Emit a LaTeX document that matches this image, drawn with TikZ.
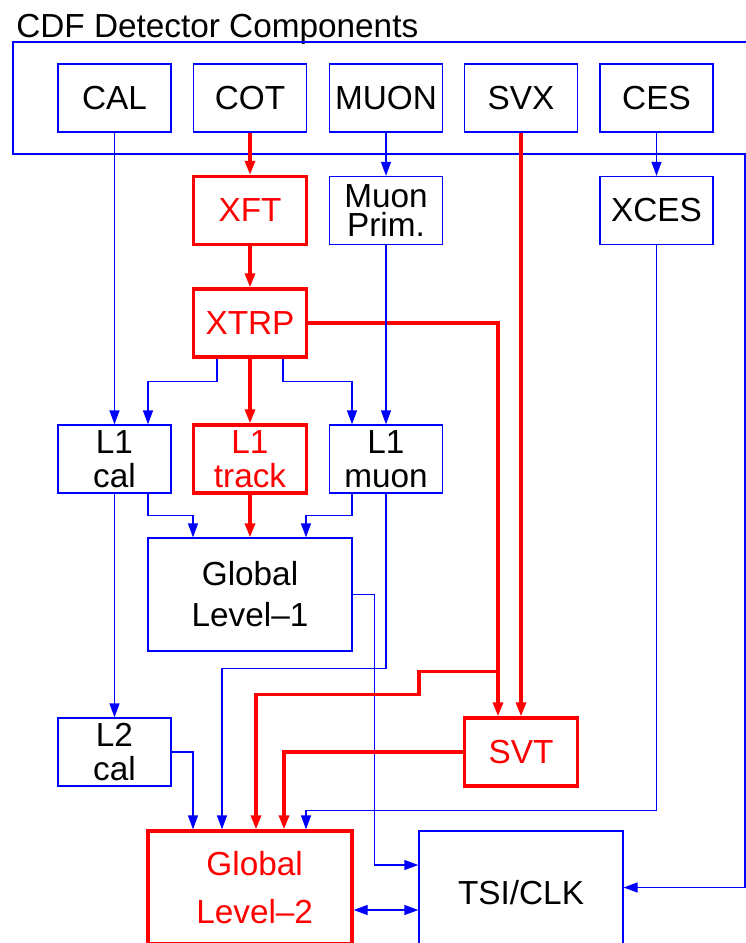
\documentclass[tikz,border=0pt]{standalone}
\usepackage{fontspec}
\setmainfont{Liberation Sans}
\usetikzlibrary{arrows.meta,calc}

\tikzset{
  box/.style={draw=blue, line width=1pt, minimum width=113*0.75pt, minimum height=68*0.75pt,
    inner sep=0pt, align=center, font=\fontsize{25}{25.5}\selectfont},
  hot/.style={box, draw=red, text=red, line width=2.5pt},
  wide/.style={minimum width=204*0.75pt, minimum height=113*0.75pt},
  bl/.style={blue, line width=1pt, -{Triangle[length=10.5pt,width=7.5pt]}},
  rl/.style={red, line width=2.4pt, -{Triangle[length=10.5pt,width=7.5pt]}},
}

\begin{document}
\begin{tikzpicture}[x=0.75pt,y=-0.75pt]
    \clip (0,0) rectangle (746,943);

    % Detector frame
    \node[anchor=base west, inner sep=0pt, font=\fontsize{25}{30}\selectfont] (title) at (16,37) {CDF Detector Components};
    \node[box, minimum width=747*0.75pt, minimum height=112*0.75pt] (cdf) at (386.5,98) {};

    % Detector components
    \node[box] (cal) at (114.5,98) {CAL};
    \node[box] (cot) at (250,98) {COT};
    \node[box] (muon) at (386,98) {MUON};
    \node[box] (svx) at (521,98) {SVX};
    \node[box] (ces) at (656.5,98) {CES};

    % Front end
    \node[hot] (xft) at (250,210.5) {XFT};
    \node[box, font=\fontsize{25}{22}\selectfont] (prim) at (386,210.5) {Muon\\Prim.};
    \node[box] (xces) at (656.5,210.5) {XCES};
    \node[hot] (xtrp) at (250,323) {XTRP};

    % Level 1
    \node[box] (l1cal) at (114.5,459) {L1\\cal};
    \node[hot] (l1trk) at (250,459) {L1\\track};
    \node[box] (l1mu) at (386,459) {L1\\muon};
    \node[box, wide, font=\fontsize{25}{30.75}\selectfont] (gl1) at (250,594.5) {Global\\Level--1};

    % Level 2
    \node[box] (l2cal) at (114.5,752) {L2\\cal};
    \node[hot] (svt) at (521,752) {SVT};
    \node[hot, wide, font=\fontsize{25}{36}\selectfont] (gl2) at (250,887.5) {\hspace*{7pt}Global\\\hspace*{7pt}Level--2};
    \node[box, wide] (tsi) at (521,887.5) {\raisebox{-4pt}[\height][\depth]{TSI/CLK}};

    % Connect detector to triggers
    \draw[bl] (cal.south) -- (l1cal.north);
    \draw[rl] (cot.south) -- (xft.north);
    \draw[bl] (muon.south) -- (prim.north);
    \draw[rl] (svx.south) -- (svt.north);
    \draw[bl] (ces.south) -- (xces.north);
    \draw[rl] (xft.south) -- (xtrp.north);
    \draw[rl] (xtrp.east) -| ($(svt.north)+(-23,0)$);
    \draw[bl] ($(xtrp.south)+(-33,0)$) -- ++(0,23) -| ($(l1cal.north)+(33.5,0)$);
    \draw[rl] (xtrp.south) -- (l1trk.north);
    \draw[bl] ($(xtrp.south)+(33,0)$) -- ++(0,23) -| ($(l1mu.north)+(-34,0)$);
    \draw[bl] (prim.south) -- (l1mu.north);

    % Level 1 to global
    \draw[bl] ($(l1cal.south)+(33.5,0)$) -- ++(0,22) -| ($(gl1.north)+(-57,0)$);
    \draw[rl] (l1trk.south) -- (gl1.north);
    \draw[bl] ($(l1mu.south)+(-34,0)$) -- ++(0,22) -| ($(gl1.north)+(56,0)$);
    \draw[bl] (l1cal.south) -- (l2cal.north);
    \draw[bl] (l1mu.south) -- ++(0,174.5) -| ($(gl2.north)+(-28,0)$);
    \draw[bl] (gl1.east) -- ++(22,0) |- ($(tsi.west)+(0,-22.5)$);

    % Level 2 inputs
    \coordinate (jn) at ($(svt.north)+(-23,-45)$);
    \draw[rl] (jn) -- ++(-79,0) -- ++(0,23) -| ($(gl2.north)+(6,0)$);
    \draw[rl] (svt.west) -| ($(gl2.north)+(34,0)$);
    \draw[bl] (l2cal.east) -| ($(gl2.north)+(-57,0)$);
    \draw[bl] (xces.south) -- ++(0,565) -| ($(gl2.north)+(56,0)$);

    % Clock
    \coordinate (edge) at (745,0);
    \draw[bl] (cdf.south -| edge) |- (tsi.east);
    \draw[bl, {Triangle[length=10.5pt,width=7.5pt]}-{Triangle[length=10.5pt,width=7.5pt]}] ($(gl2.east)+(0,22.5)$) -- ($(tsi.west)+(0,22.5)$);
\end{tikzpicture}
\end{document}
